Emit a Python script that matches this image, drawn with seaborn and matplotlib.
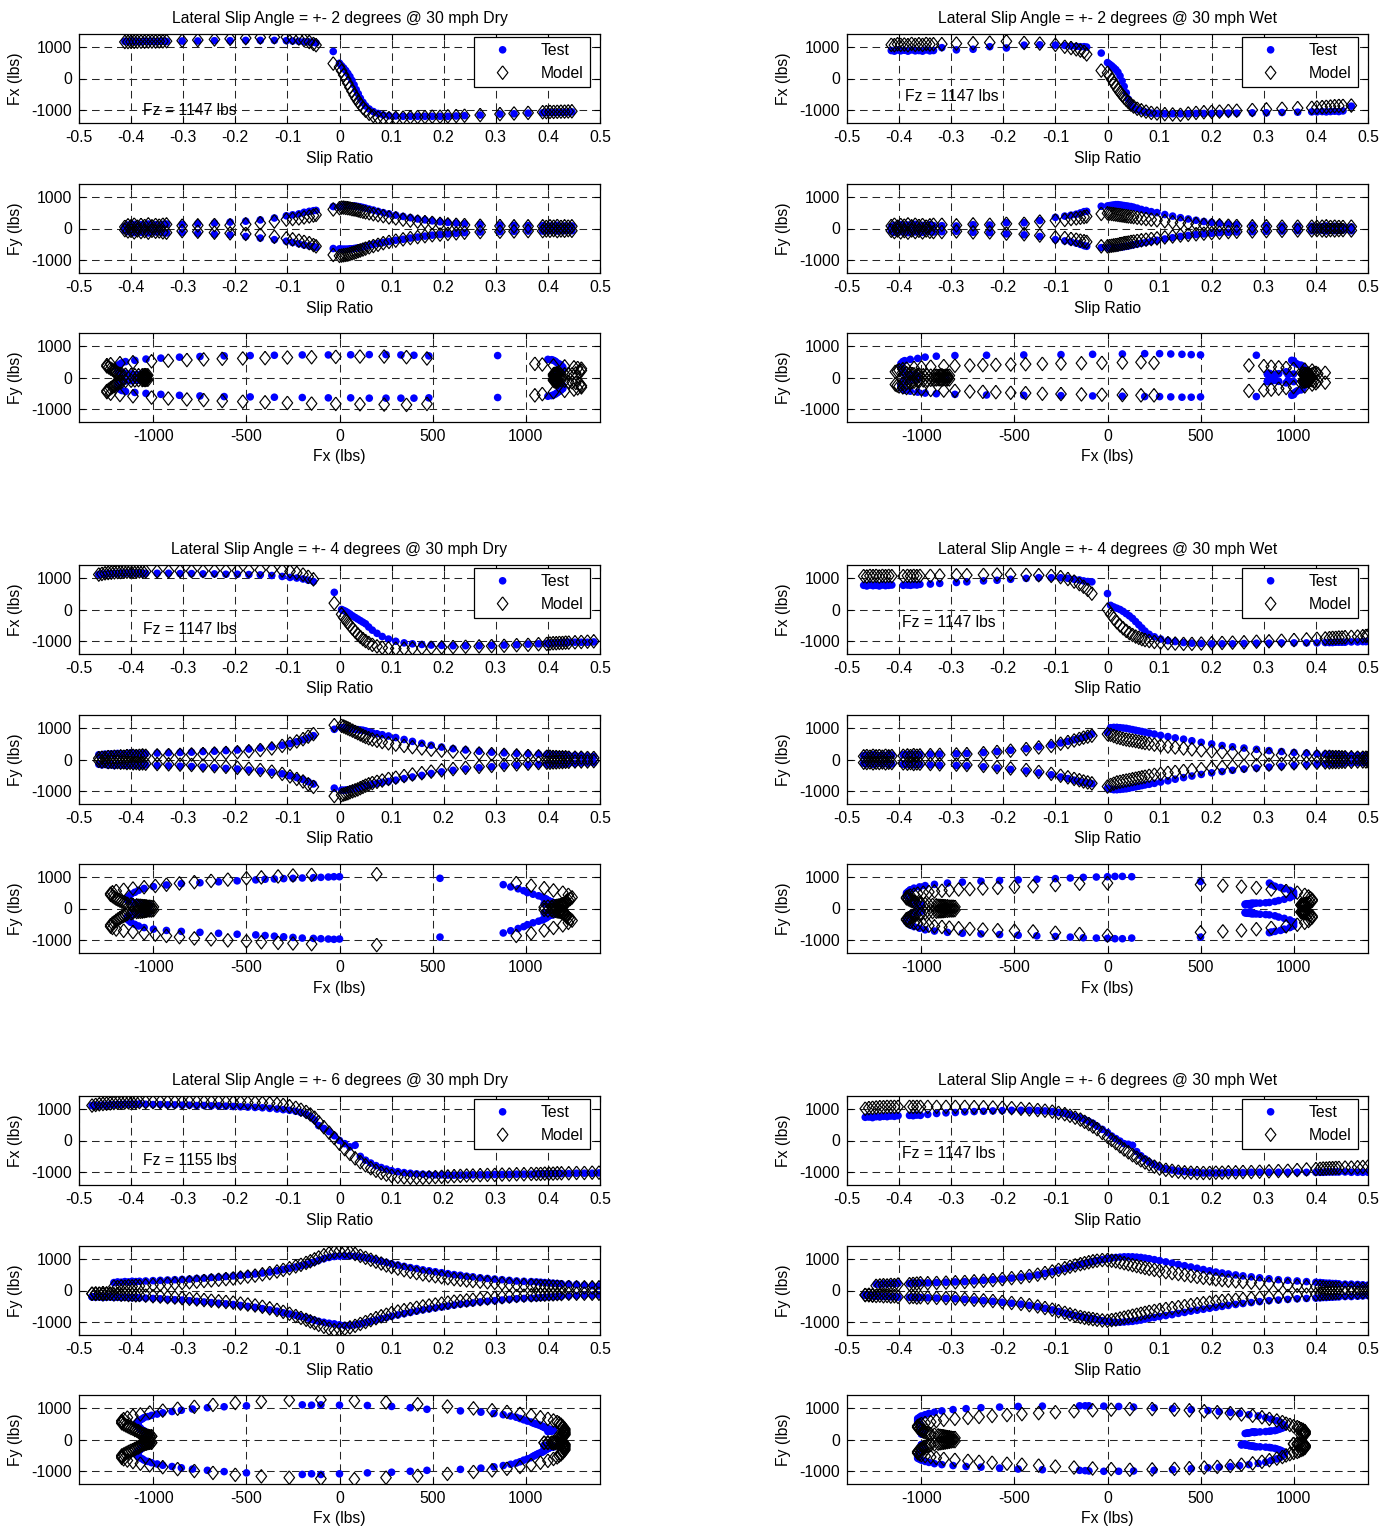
import numpy as np
import matplotlib
matplotlib.use("Agg")
import matplotlib.pyplot as plt
import seaborn as sns
from matplotlib.ticker import FixedLocator, FixedFormatter

# ---------------------------------------------------------------- data
# Each case: slip ratio points, Fx (test/model), Fy for +alpha and -alpha (test/model)

# 2 degrees, dry
dry2_slip = [-0.412, -0.406, -0.400, -0.394, -0.388, -0.381, -0.374, -0.367, -0.360, -0.353, -0.346, -0.339, -0.332,
             -0.302, -0.272, -0.240, -0.210, -0.180, -0.152, -0.125, -0.102, -0.090, -0.078, -0.068, -0.058, -0.050, -0.045,
             -0.012,
             0.000, 0.004, 0.008, 0.012, 0.016, 0.020, 0.024, 0.028, 0.032, 0.036, 0.040, 0.045, 0.050, 0.057,
             0.065, 0.074, 0.084, 0.095, 0.108, 0.122, 0.136, 0.150, 0.164, 0.178, 0.193, 0.208, 0.224, 0.240, 0.270, 0.308, 0.335, 0.362,
             0.390, 0.397, 0.404, 0.411, 0.418, 0.425, 0.432, 0.439, 0.446]
dry2_fx_test = [1170, 1160, 1175, 1165, 1170, 1160, 1175, 1165, 1170, 1160, 1170, 1175, 1165,
                1180, 1180, 1190, 1190, 1200, 1200, 1200, 1190, 1180, 1170, 1160, 1150, 1140, 1120,
                850,
                480, 400, 330, 250, 160, 60, -60, -200, -350, -480, -620, -750, -860, -960,
                -1040, -1100, -1150, -1170, -1180, -1190, -1190, -1190, -1190, -1190, -1190, -1190, -1180, -1170, -1150, -1120, -1110, -1090,
                -1080, -1075, -1070, -1070, -1065, -1060, -1060, -1055, -1050]
dry2_fx_model = [1150, 1150, 1155, 1155, 1160, 1160, 1160, 1165, 1165, 1165, 1170, 1170, 1175,
                 1190, 1210, 1230, 1250, 1270, 1290, 1300, 1300, 1280, 1260, 1210, 1150, 1090, 1050,
                 470,
                 360, 240, 110, -20, -150, -280, -400, -520, -630, -730, -820, -920, -1010, -1110,
                 -1180, -1230, -1250, -1250, -1240, -1230, -1220, -1210, -1210, -1200, -1200, -1190, -1180, -1170, -1150, -1120, -1100, -1080,
                 -1060, -1055, -1050, -1050, -1045, -1040, -1040, -1035, -1030]
dry2_fy_test_pos = [60, 110, 80, 130, 70, 120, 90, 140, 80, 120, 100, 130, 140,
                    130, 150, 170, 200, 230, 270, 330, 400, 430, 460, 510, 540, 560, 570,
                    690,
                    680, 700, 710, 720, 720, 715, 710, 710, 700, 690, 680, 660, 640, 610,
                    580, 540, 500, 460, 420, 380, 340, 300, 270, 240, 210, 190, 170, 150, 130, 110, 100, 90,
                    90, 60, 80, 70, 100, 60, 80, 70, 80]
dry2_fy_test_neg = [-60, -100, -80, -130, -70, -120, -90, -140, -80, -110, -100, -130, -140,
                    -120, -150, -180, -200, -250, -300, -350, -400, -440, -480, -520, -550, -570, -590,
                    -630,
                    -640, -650, -650, -650, -650, -640, -640, -630, -620, -610, -600, -580, -560, -530,
                    -500, -470, -440, -410, -370, -340, -300, -270, -240, -210, -190, -170, -150, -130, -110, -100, -90, -80,
                    -80, -60, -70, -50, -80, -60, -70, -50, -70]
dry2_fy_model_pos = [50, 100, 70, 120, 60, 110, 80, 130, 70, 110, 90, 120, 130,
                     90, 100, 110, 100, 130, 170, 220, 280, 300, 320, 350, 380, 410, 430,
                     600,
                     640, 660, 660, 650, 640, 630, 610, 600, 590, 570, 550, 530, 510, 480,
                     450, 420, 390, 350, 320, 280, 250, 220, 200, 180, 150, 130, 120, 110, 90, 80, 70, 70,
                     70, 50, 70, 60, 80, 50, 70, 60, 70]
dry2_fy_model_neg = [-50, -90, -70, -120, -60, -110, -80, -130, -70, -100, -90, -120, -130,
                     -80, -100, -130, -150, -170, -200, -260, -310, -340, -380, -420, -460, -520, -560,
                     -830,
                     -860, -850, -840, -830, -820, -800, -780, -760, -740, -710, -690, -660, -630, -590,
                     -550, -510, -460, -420, -380, -340, -300, -270, -240, -210, -190, -170, -150, -130, -110, -100, -90, -80,
                     -80, -60, -70, -50, -80, -60, -70, -50, -70]

# 2 degrees, wet
wet2_slip = [-0.415, -0.409, -0.403, -0.397, -0.390, -0.383, -0.376, -0.369, -0.362, -0.355, -0.348, -0.341, -0.334,
             -0.318, -0.290, -0.258, -0.226, -0.194, -0.160, -0.130, -0.100, -0.082, -0.070, -0.060, -0.052, -0.045, -0.040,
             -0.012,
             0.000, 0.004, 0.008, 0.012, 0.016, 0.020, 0.024, 0.028, 0.032, 0.036, 0.040, 0.045, 0.050, 0.057,
             0.065, 0.074, 0.084, 0.095, 0.110, 0.125, 0.140, 0.155, 0.170, 0.185, 0.200, 0.215, 0.232, 0.248, 0.278, 0.305, 0.335, 0.365,
             0.392, 0.402, 0.412, 0.420, 0.428, 0.436, 0.444, 0.452, 0.468]
wet2_fx_test = [880, 860, 900, 870, 890, 860, 900, 870, 880, 860, 900, 870, 880,
                970, 900, 920, 1000, 960, 1050, 1060, 1050, 1040, 1020, 1010, 1000, 1000, 990,
                800,
                500, 450, 400, 340, 280, 200, 80, -80, -250, -450, -650, -820, -920, -980,
                -1020, -1060, -1090, -1100, -1110, -1110, -1110, -1110, -1100, -1100, -1100, -1100, -1090, -1090, -1080, -1080, -1070, -1060,
                -1050, -1050, -1040, -1050, -1040, -1030, -1040, -1020, -870]
wet2_fx_model = [1060, 1050, 1080, 1060, 1070, 1050, 1090, 1060, 1080, 1060, 1090, 1070, 1080,
                 1080, 1100, 1110, 1130, 1170, 1120, 1100, 1060, 1000, 960, 920, 880, 840, 760,
                 250,
                 180, 80, -30, -140, -250, -350, -440, -520, -600, -670, -740, -820, -880, -950,
                 -1000, -1040, -1080, -1100, -1120, -1130, -1140, -1100, -1080, -1060, -1050, -1040, -1020, -1010, -990, -970, -950, -930,
                 -920, -910, -900, -890, -880, -870, -860, -860, -850]
wet2_fy_test_pos = [60, 100, 80, 120, 70, 110, 90, 130, 60, 100, 80, 120, 90,
                    90, 80, 120, 110, 180, 180, 250, 350, 390, 420, 450, 490, 530, 540,
                    700,
                    710, 720, 730, 740, 750, 750, 740, 730, 720, 710, 700, 690, 670, 640,
                    600, 570, 530, 500, 440, 390, 340, 300, 260, 220, 190, 160, 140, 120, 100, 90, 80, 70,
                    70, 50, 60, 80, 50, 70, 60, 50, 50]
wet2_fy_test_neg = [-80, -120, -60, -100, -90, -130, -70, -110, -80, -120, -60, -100, -110,
                    -100, -90, -120, -130, -170, -200, -250, -350, -390, -420, -460, -500, -540, -560,
                    -600,
                    -610, -620, -620, -610, -600, -600, -590, -580, -570, -560, -550, -530, -510, -490,
                    -460, -430, -400, -370, -330, -290, -250, -220, -190, -170, -150, -130, -120, -110, -100, -90, -80, -70,
                    -70, -50, -60, -80, -50, -70, -60, -50, -70]
wet2_fy_model_pos = [80, 120, 60, 110, 90, 130, 70, 120, 80, 110, 60, 100, 120,
                     120, 100, 130, 120, 150, 150, 220, 250, 270, 300, 320, 340, 360, 380,
                     460,
                     480, 470, 460, 450, 440, 430, 420, 410, 400, 390, 380, 370, 360, 340,
                     320, 300, 280, 260, 230, 200, 180, 160, 140, 120, 110, 100, 90, 80, 70, 70, 60, 60,
                     60, 50, 60, 70, 50, 60, 50, 50, 60]
wet2_fy_model_neg = [-70, -110, -60, -120, -80, -130, -60, -110, -70, -120, -60, -100, -110,
                     -110, -90, -120, -120, -160, -180, -220, -280, -300, -330, -350, -380, -400, -420,
                     -560,
                     -560, -550, -540, -530, -520, -510, -490, -480, -460, -450, -440, -420, -410, -390,
                     -370, -350, -330, -310, -280, -250, -220, -200, -180, -160, -140, -130, -110, -100, -90, -80, -70, -60,
                     -60, -50, -60, -70, -50, -60, -50, -50, -60]

# 4 degrees, dry
dry4_slip = [-0.462, -0.456, -0.450, -0.444, -0.438, -0.432, -0.426, -0.420, -0.414, -0.408, -0.402, -0.396, -0.390, -0.384, -0.378, -0.372,
             -0.350, -0.328, -0.306, -0.284, -0.262, -0.240, -0.218, -0.196, -0.174, -0.152, -0.130, -0.110, -0.095, -0.082, -0.070, -0.060, -0.050,
             -0.010,
             0.004, 0.008, 0.012, 0.016, 0.020, 0.025, 0.030, 0.035, 0.040, 0.045, 0.050, 0.056, 0.063,
             0.072, 0.082, 0.094, 0.108, 0.124, 0.140, 0.158, 0.176, 0.196, 0.218, 0.242, 0.268, 0.292, 0.316, 0.340, 0.362, 0.382, 0.398,
             0.404, 0.410, 0.416, 0.422, 0.428, 0.434, 0.440, 0.452, 0.464, 0.476, 0.488]
dry4_fx_test = [1100, 1120, 1110, 1130, 1120, 1140, 1130, 1150, 1140, 1150, 1130, 1150, 1140, 1150, 1130, 1140,
                1140, 1140, 1130, 1130, 1120, 1120, 1110, 1110, 1100, 1090, 1070, 1040, 1010, 990, 960, 920, 880,
                540,
                0, -30, -60, -100, -140, -200, -250, -300, -350, -400, -450, -550, -650,
                -750, -850, -930, -1000, -1050, -1080, -1100, -1120, -1130, -1140, -1140, -1140, -1130, -1120, -1110, -1090, -1080, -1070,
                -1060, -1060, -1050, -1050, -1040, -1040, -1030, -1030, -1030, -1030, -1020]
dry4_fx_model = [1100, 1120, 1140, 1150, 1160, 1170, 1180, 1180, 1190, 1190, 1200, 1200, 1200, 1200, 1200, 1200,
                 1200, 1200, 1210, 1210, 1210, 1220, 1220, 1220, 1230, 1240, 1250, 1230, 1200, 1150, 1100, 1030, 950,
                 200,
                 -150, -250, -330, -420, -500, -600, -690, -780, -860, -930, -990, -1050, -1110,
                 -1160, -1200, -1220, -1230, -1230, -1220, -1210, -1200, -1190, -1180, -1170, -1160, -1150, -1140, -1120, -1110, -1090, -1080,
                 -1070, -1060, -1060, -1050, -1050, -1040, -1040, -1030, -1020, -1010, -1000]
dry4_fy_test_pos = [150, 120, 170, 140, 180, 150, 190, 160, 180, 170, 200, 180, 190, 170, 200, 180,
                    200, 210, 220, 230, 250, 260, 280, 300, 330, 360, 400, 450, 500, 560, 620, 680, 750,
                    950,
                    1000, 1000, 990, 980, 970, 960, 950, 940, 930, 920, 900, 870, 840,
                    810, 780, 740, 690, 630, 570, 510, 450, 390, 340, 300, 260, 230, 210, 190, 180, 170, 160,
                    160, 150, 150, 140, 150, 140, 130, 130, 120, 110, 100]
dry4_fy_test_neg = [-150, -170, -140, -180, -160, -190, -150, -180, -170, -190, -160, -180, -170, -190, -180, -170,
                    -190, -200, -210, -220, -240, -260, -280, -300, -330, -360, -400, -450, -510, -570, -630, -700, -770,
                    -900,
                    -960, -970, -960, -950, -940, -930, -910, -890, -870, -850, -830, -810, -780,
                    -750, -720, -690, -650, -600, -550, -500, -440, -390, -340, -300, -260, -230, -200, -180, -170, -160, -150,
                    -150, -140, -140, -130, -140, -130, -120, -120, -110, -110, -100]
dry4_fy_model_pos = [40, 60, 50, 80, 70, 90, 80, 100, 90, 110, 100, 120, 110, 120, 130, 120,
                     130, 140, 150, 160, 170, 190, 210, 230, 260, 300, 350, 430, 500, 570, 640, 720, 800,
                     1080,
                     1060, 1040, 1010, 980, 950, 910, 870, 830, 790, 750, 710, 670, 630,
                     590, 550, 510, 470, 430, 390, 350, 310, 280, 250, 220, 190, 170, 150, 130, 110, 100, 90,
                     90, 80, 80, 70, 70, 70, 60, 60, 60, 50, 50]
dry4_fy_model_neg = [-40, -60, -50, -80, -70, -90, -80, -100, -90, -110, -100, -120, -110, -130, -120, -130,
                     -140, -150, -160, -170, -190, -210, -230, -260, -290, -330, -380, -450, -530, -610, -690, -780, -860,
                     -1150,
                     -1120, -1100, -1080, -1060, -1030, -1000, -970, -940, -900, -860, -820, -780, -740,
                     -700, -660, -610, -570, -520, -470, -430, -380, -340, -300, -260, -230, -200, -170, -150, -130, -110, -100,
                     -100, -90, -90, -80, -80, -70, -70, -60, -60, -60, -50]

# 4 degrees, wet
wet4_slip = [-0.468, -0.462, -0.456, -0.450, -0.444, -0.438, -0.432, -0.426, -0.420, -0.414, -0.392, -0.384, -0.378, -0.372, -0.366, -0.360,
             -0.340, -0.322, -0.290, -0.270, -0.238, -0.212, -0.186, -0.156, -0.132, -0.108, -0.090, -0.076, -0.064, -0.054, -0.046, -0.038, -0.030,
             0.000,
             0.006, 0.012, 0.018, 0.024, 0.030, 0.036, 0.042, 0.048, 0.054, 0.060, 0.066, 0.072, 0.080,
             0.090, 0.102, 0.116, 0.130, 0.146, 0.162, 0.180, 0.200, 0.220, 0.240, 0.262, 0.286, 0.310, 0.334, 0.358, 0.382, 0.402, 0.418,
             0.426, 0.432, 0.438, 0.444, 0.450, 0.456, 0.468, 0.480, 0.490, 0.496, 0.500]
wet4_fx_test = [760, 740, 770, 750, 760, 740, 770, 750, 760, 770, 760, 770, 760, 780, 770, 790,
                800, 820, 850, 870, 900, 920, 950, 980, 1000, 1000, 1000, 980, 950, 930, 900, 880, 870,
                500,
                130, 80, 40, 0, -60, -130, -200, -280, -380, -480, -580, -680, -780,
                -860, -930, -980, -1010, -1040, -1060, -1070, -1080, -1080, -1080, -1070, -1060, -1060, -1050, -1050, -1050, -1050, -1040,
                -1040, -1040, -1030, -1030, -1030, -1030, -1020, -1020, -1010, -1010, -1000]
wet4_fx_model = [1050, 1040, 1060, 1050, 1060, 1040, 1060, 1050, 1060, 1050, 1050, 1060, 1050, 1060, 1050, 1060,
                 1060, 1070, 1080, 1080, 1090, 1100, 1100, 1090, 1080, 1060, 1020, 960, 880, 800, 720, 620, 500,
                 0,
                 -150, -280, -400, -500, -590, -670, -740, -800, -850, -890, -930, -960, -990,
                 -1020, -1040, -1060, -1070, -1080, -1080, -1070, -1060, -1050, -1040, -1030, -1010, -1000, -980, -960, -940, -920, -910,
                 -900, -890, -890, -880, -880, -870, -860, -850, -840, -830, -820]
wet4_fy_test_pos = [120, 140, 110, 150, 130, 120, 140, 130, 150, 140, 150, 160, 140, 170, 150, 160,
                    170, 170, 180, 190, 220, 250, 290, 340, 400, 460, 520, 570, 620, 660, 700, 750, 800,
                    850,
                    1000, 1010, 1010, 1000, 990, 980, 960, 940, 920, 900, 880, 860, 830,
                    800, 760, 720, 680, 640, 590, 540, 490, 440, 400, 360, 320, 280, 250, 220, 200, 180, 170,
                    160, 160, 150, 150, 140, 140, 130, 130, 120, 120, 110]
wet4_fy_test_neg = [-120, -140, -110, -150, -130, -120, -140, -130, -150, -140, -150, -160, -140, -170, -150, -160,
                    -170, -180, -190, -200, -230, -270, -310, -360, -420, -480, -550, -600, -650, -690, -720, -740, -760,
                    -900,
                    -930, -950, -950, -940, -930, -920, -900, -880, -860, -840, -820, -800, -780,
                    -750, -710, -670, -620, -570, -520, -470, -420, -380, -340, -300, -270, -240, -210, -190, -170, -150, -140,
                    -140, -130, -130, -120, -120, -110, -110, -100, -100, -90, -90]
wet4_fy_model_pos = [100, 110, 90, 120, 100, 110, 90, 120, 100, 110, 120, 130, 110, 140, 120, 130,
                     140, 150, 160, 170, 200, 240, 280, 330, 380, 430, 500, 550, 600, 650, 690, 720, 750,
                     800,
                     780, 740, 700, 680, 650, 630, 610, 600, 580, 560, 540, 520, 500,
                     470, 440, 410, 380, 350, 320, 290, 260, 230, 210, 190, 170, 150, 140, 120, 110, 100, 90,
                     90, 80, 80, 80, 70, 70, 70, 60, 60, 60, 50]
wet4_fy_model_neg = [-100, -110, -90, -120, -100, -110, -90, -120, -100, -110, -120, -130, -110, -140, -120, -130,
                     -140, -150, -160, -170, -200, -240, -280, -330, -390, -450, -510, -560, -610, -650, -690, -720, -750,
                     -850,
                     -800, -760, -720, -700, -680, -660, -640, -620, -600, -580, -560, -540, -510,
                     -480, -450, -420, -390, -360, -330, -300, -270, -240, -220, -200, -180, -160, -140, -120, -110, -100, -90,
                     -90, -80, -80, -80, -70, -70, -70, -60, -60, -60, -50]

# 6 degrees, dry
dry6_slip = [-0.475, -0.468, -0.461, -0.454, -0.447, -0.440, -0.433, -0.426, -0.419, -0.412, -0.405, -0.398, -0.391, -0.384,
             -0.372, -0.358, -0.344, -0.330, -0.316, -0.302, -0.288, -0.274, -0.260, -0.246, -0.232, -0.218, -0.204, -0.190, -0.176,
             -0.162, -0.148, -0.134, -0.120, -0.108, -0.096, -0.084,
             -0.074, -0.064, -0.056, -0.048, -0.040, -0.030, -0.020, -0.010,
             0.000, 0.010, 0.020, 0.030, 0.040, 0.050, 0.060, 0.070, 0.080, 0.090,
             0.100, 0.112, 0.124, 0.136, 0.148, 0.160, 0.172, 0.184, 0.196, 0.208, 0.220, 0.232, 0.244, 0.256, 0.270,
             0.284, 0.298, 0.312, 0.326, 0.340, 0.354, 0.368,
             0.378, 0.386, 0.394, 0.402, 0.410, 0.418, 0.426, 0.440, 0.455, 0.470, 0.485, 0.498]
dry6_fx_test = [1100, 1110, 1100, 1120, 1110, 1130, 1120, 1140, 1130, 1150, 1140, 1150, 1140, 1150,
                1140, 1130, 1130, 1120, 1120, 1110, 1110, 1100, 1100, 1090, 1090, 1080, 1070, 1060, 1050,
                1040, 1030, 1010, 990, 970, 950, 920,
                880, 830, 760, 650, 470, 380, 280, 150,
                0, -100, -200, -150, -500, -620, -710, -790, -850, -900,
                -950, -980, -1010, -1030, -1050, -1060, -1070, -1080, -1080, -1090, -1090, -1090, -1090, -1080, -1080,
                -1080, -1070, -1070, -1070, -1060, -1060, -1060,
                -1050, -1050, -1050, -1050, -1040, -1040, -1040, -1040, -1030, -1030, -1030, -1020]
dry6_fx_model = [1100, 1120, 1140, 1150, 1160, 1170, 1180, 1190, 1190, 1200, 1200, 1200, 1210, 1210,
                 1210, 1210, 1210, 1210, 1210, 1210, 1210, 1210, 1210, 1210, 1210, 1200, 1200, 1200, 1190,
                 1190, 1180, 1170, 1150, 1120, 1080, 1030,
                 970, 900, 820, 720, 580, 420, 250, 80,
                 -100, -270, -420, -560, -680, -780, -870, -950, -1020, -1070,
                 -1110, -1140, -1160, -1170, -1170, -1170, -1160, -1150, -1140, -1130, -1120, -1110, -1100, -1100, -1090,
                 -1080, -1080, -1070, -1070, -1060, -1060, -1050,
                 -1050, -1050, -1040, -1040, -1040, -1030, -1030, -1030, -1020, -1020, -1010, -1010]
dry6_fy_test_pos = [-200, -190, -180, -200, -190, -180, 250, 270, 260, 280, 270, 290, 280, 290,
                    300, 310, 320, 330, 340, 350, 360, 380, 390, 410, 420, 440, 460, 480, 500,
                    520, 550, 580, 620, 660, 700, 740,
                    780, 820, 860, 900, 950, 1000, 1040, 1070,
                    1080, 1090, 1090, 1080, 1060, 1030, 1000, 960, 920, 880,
                    840, 800, 760, 720, 690, 650, 620, 590, 560, 530, 500, 480, 450, 430, 400,
                    380, 360, 340, 320, 300, 290, 280,
                    270, 260, 250, 240, 230, 220, 210, 200, 190, 170, 150, 140]
dry6_fy_test_neg = [-200, -210, -200, -220, -210, -200, -220, -210, -220, -210, -220, -230, -220, -230,
                    -240, -250, -260, -280, -290, -300, -320, -340, -360, -380, -400, -420, -440, -470, -500,
                    -530, -570, -610, -650, -700, -740, -780,
                    -820, -860, -900, -940, -970, -1000, -1030, -1050,
                    -1080, -1100, -1100, -1080, -1050, -1010, -970, -930, -890, -850,
                    -810, -770, -730, -690, -650, -610, -580, -550, -520, -490, -460, -430, -410, -390, -360,
                    -340, -320, -300, -280, -260, -250, -240,
                    -230, -220, -210, -200, -200, -190, -180, -170, -160, -150, -150, -140]
dry6_fy_model_pos = [-100, -90, -100, -80, -90, -100, 120, 110, 130, 120, 140, 130, 150, 140,
                     160, 180, 190, 210, 220, 240, 260, 280, 300, 320, 340, 360, 380, 410, 440,
                     470, 510, 550, 600, 650, 700, 760,
                     810, 870, 920, 980, 1040, 1110, 1170, 1220,
                     1250, 1240, 1200, 1150, 1090, 1030, 970, 910, 850, 790,
                     740, 690, 640, 590, 550, 510, 480, 450, 420, 390, 360, 340, 320, 300, 280,
                     260, 240, 220, 200, 180, 170, 160,
                     150, 140, 130, 130, 120, 120, 110, 110, 100, 100, 100, 100]
dry6_fy_model_neg = [-100, -110, -100, -120, -110, -100, -120, -110, -130, -120, -140, -130, -150, -140,
                     -160, -180, -190, -210, -220, -240, -260, -280, -300, -320, -340, -360, -380, -410, -440,
                     -470, -510, -560, -610, -670, -730, -800,
                     -860, -920, -970, -1020, -1080, -1140, -1200, -1250,
                     -1230, -1200, -1160, -1110, -1050, -990, -930, -870, -810, -760,
                     -710, -660, -620, -580, -540, -500, -470, -440, -410, -380, -350, -330, -310, -290, -270,
                     -250, -230, -210, -190, -170, -160, -150,
                     -140, -130, -130, -120, -120, -110, -110, -100, -100, -100, -100, -100]

# 6 degrees, wet
wet6_slip = [-0.465, -0.458, -0.451, -0.444, -0.437, -0.430, -0.423, -0.416, -0.409, -0.402, -0.380, -0.373, -0.366, -0.359,
             -0.345, -0.328, -0.310, -0.292, -0.274, -0.256, -0.238, -0.220, -0.202, -0.184,
             -0.166, -0.150, -0.134, -0.120, -0.106, -0.094, -0.082, -0.072, -0.062, -0.052,
             -0.044, -0.036, -0.028, -0.020, -0.010,
             0.000, 0.008, 0.016, 0.024, 0.032, 0.040, 0.048, 0.056, 0.064, 0.072, 0.080, 0.090,
             0.100, 0.112, 0.124, 0.136, 0.148, 0.160, 0.172, 0.184, 0.196, 0.208, 0.220, 0.232, 0.246, 0.260, 0.276,
             0.292, 0.310, 0.328, 0.346, 0.364, 0.382, 0.400,
             0.408, 0.414, 0.420, 0.426, 0.432, 0.438, 0.444, 0.456, 0.468, 0.480, 0.490, 0.500]
wet6_fx_test = [730, 740, 720, 750, 740, 760, 750, 770, 760, 780, 790, 780, 800, 790,
                820, 850, 870, 880, 900, 910, 920, 930, 940, 950,
                950, 950, 940, 930, 910, 880, 850, 810, 760, 710,
                660, 600, 540, 450, 350,
                250, 140, 60, -20, -100, -120, -150, -350, -480, -580, -680, -760,
                -830, -890, -930, -960, -980, -1000, -1010, -1020, -1020, -1020, -1020, -1010, -1010, -1010, -1000,
                -1000, -1000, -1000, -1000, -1000, -1000, -1000,
                -1000, -1000, -990, -990, -990, -990, -990, -990, -1000, -1000, -1000, -1000]
wet6_fx_model = [1000, 1020, 1030, 1040, 1050, 1050, 1060, 1060, 1060, 1060, 1060, 1060, 1060, 1060,
                 1060, 1060, 1060, 1060, 1060, 1050, 1050, 1040, 1030, 1020,
                 1000, 980, 960, 940, 910, 870, 830, 780, 720, 660,
                 590, 520, 440, 360, 240,
                 120, 20, -80, -180, -280, -370, -460, -540, -620, -690, -750, -820,
                 -880, -920, -950, -980, -1000, -1010, -1020, -1020, -1020, -1010, -1010, -1000, -1000, -990, -990,
                 -980, -970, -960, -950, -930, -910, -900,
                 -890, -880, -880, -870, -870, -860, -860, -850, -850, -840, -830, -820]
wet6_fy_test_pos = [-150, -140, -160, 200, 190, 210, 200, 220, 210, 230, 220, 240, 230, 240,
                    240, 250, 260, 270, 280, 300, 320, 340, 360, 390,
                    420, 450, 490, 540, 590, 640, 690, 740, 780, 820,
                    850, 880, 910, 940, 970,
                    1000, 1020, 1040, 1050, 1060, 1060, 1060, 1050, 1040, 1020, 1000, 970,
                    940, 900, 860, 820, 780, 740, 700, 660, 620, 580, 550, 520, 490, 460, 430,
                    400, 370, 340, 320, 300, 280, 260,
                    250, 240, 230, 230, 220, 220, 210, 200, 200, 190, 180, 170]
wet6_fy_test_neg = [-150, -160, -170, -180, -170, -190, -180, -200, -190, -210, -220, -210, -230, -220,
                    -230, -240, -250, -260, -280, -300, -320, -340, -370, -400,
                    -430, -470, -510, -560, -610, -660, -710, -750, -790, -820,
                    -850, -870, -890, -920, -950,
                    -970, -990, -1000, -1000, -990, -980, -970, -950, -930, -900, -870, -850,
                    -820, -790, -760, -720, -690, -650, -620, -590, -560, -530, -500, -470, -440, -410, -380,
                    -350, -320, -300, -280, -260, -250, -240,
                    -230, -220, -220, -210, -210, -200, -200, -190, -190, -180, -170, -160]
wet6_fy_model_pos = [-140, -130, -150, 150, 160, 170, 160, 180, 170, 190, 200, 210, 220, 230,
                     230, 240, 250, 260, 270, 290, 310, 330, 360, 390,
                     420, 460, 500, 550, 600, 650, 700, 750, 790, 830,
                     860, 890, 920, 940, 960,
                     960, 940, 920, 890, 860, 830, 800, 770, 740, 710, 680, 650,
                     620, 580, 550, 520, 490, 460, 430, 400, 380, 350, 330, 310, 290, 270, 250,
                     230, 210, 190, 170, 150, 130, 120,
                     110, 100, 90, 90, 80, 80, 70, 70, 60, 60, 50, 50]
wet6_fy_model_neg = [-140, -150, -160, -170, -160, -180, -170, -190, -180, -200, -210, -200, -220, -210,
                     -220, -230, -240, -250, -270, -290, -310, -330, -360, -390,
                     -420, -460, -500, -550, -600, -650, -700, -750, -790, -830,
                     -860, -880, -900, -920, -940,
                     -950, -930, -910, -880, -850, -820, -790, -760, -730, -700, -670, -640,
                     -610, -580, -550, -520, -490, -460, -430, -400, -380, -350, -330, -310, -290, -270, -250,
                     -230, -210, -190, -170, -150, -130, -120,
                     -110, -100, -90, -90, -80, -80, -70, -70, -60, -60, -50, -50]

titles = ["Lateral Slip Angle = +- 2 degrees @ 30 mph Dry",
          "Lateral Slip Angle = +- 2 degrees @ 30 mph Wet",
          "Lateral Slip Angle = +- 4 degrees @ 30 mph Dry",
          "Lateral Slip Angle = +- 4 degrees @ 30 mph Wet",
          "Lateral Slip Angle = +- 6 degrees @ 30 mph Dry",
          "Lateral Slip Angle = +- 6 degrees @ 30 mph Wet"]
fz_labels = ["Fz = 1147 lbs", "Fz = 1147 lbs", "Fz = 1147 lbs",
             "Fz = 1147 lbs", "Fz = 1155 lbs", "Fz = 1147 lbs"]
slip_ticks = [-0.5, -0.4, -0.3, -0.2, -0.1, 0, 0.1, 0.2, 0.3, 0.4, 0.5]
slip_tick_labels = ["-0.5", "-0.4", "-0.3", "-0.2", "-0.1", "0", "0.1", "0.2", "0.3", "0.4", "0.5"]
force_ticks = [-1000, 0, 1000]
force_tick_labels = ["-1000", "0", "1000"]
fx_ticks = [-1000, -500, 0, 500, 1000]
fx_tick_labels = ["-1000", "-500", "0", "500", "1000"]

cases = [
    (dry2_slip, dry2_fx_test, dry2_fx_model, dry2_fy_test_pos, dry2_fy_test_neg, dry2_fy_model_pos, dry2_fy_model_neg),
    (wet2_slip, wet2_fx_test, wet2_fx_model, wet2_fy_test_pos, wet2_fy_test_neg, wet2_fy_model_pos, wet2_fy_model_neg),
    (dry4_slip, dry4_fx_test, dry4_fx_model, dry4_fy_test_pos, dry4_fy_test_neg, dry4_fy_model_pos, dry4_fy_model_neg),
    (wet4_slip, wet4_fx_test, wet4_fx_model, wet4_fy_test_pos, wet4_fy_test_neg, wet4_fy_model_pos, wet4_fy_model_neg),
    (dry6_slip, dry6_fx_test, dry6_fx_model, dry6_fy_test_pos, dry6_fy_test_neg, dry6_fy_model_pos, dry6_fy_model_neg),
    (wet6_slip, wet6_fx_test, wet6_fx_model, wet6_fy_test_pos, wet6_fy_test_neg, wet6_fy_model_pos, wet6_fy_model_neg),
]
for i, c in enumerate(cases):
    lens = [len(a) for a in c]
    assert len(set(lens)) == 1, (i, lens)

# ---------------------------------------------------------------- style
sns.set_style("white")
plt.rcParams["font.family"] = ["Liberation Sans", "DejaVu Sans"]
plt.rcParams["lines.scale_dashes"] = False
plt.rcParams["text.color"] = "black"
plt.rcParams["axes.labelcolor"] = "black"
FS = 11.3

W, H = 1392, 1530
fig = plt.figure(figsize=(W / 100, H / 100), dpi=100)
fig.patch.set_facecolor("white")

col_x = [79, 847]
grp_top = [34, 565, 1096]
pan_off = [0, 150, 299]
AW, AH = 521, 89

DIAMOND = [(0, 1), (0.78, 0), (0, -1), (-0.78, 0), (0, 1)]
TEST_S = 30
MODEL_S = 95

fz_pos = [(-0.377, -1000), (-0.389, -570), (-0.377, -640),
          (-0.395, -400), (-0.377, -640), (-0.395, -400)]


def make_ax(x0, top):
    return fig.add_axes([x0 / W, 1 - (top + AH) / H, AW / W, AH / H])


def style_ax(ax, xticks, xlabels, xlim, xlabel, ylabel):
    ax.set_xlim(xlim)
    ax.set_ylim(-1400, 1400)
    ax.xaxis.set_major_locator(FixedLocator(xticks))
    ax.xaxis.set_major_formatter(FixedFormatter(xlabels))
    ax.yaxis.set_major_locator(FixedLocator(force_ticks))
    ax.yaxis.set_major_formatter(FixedFormatter(force_tick_labels))
    ax.grid(True, color="0.15", linestyle=(0, (5.5, 3.5)), linewidth=0.75)
    ax.set_axisbelow(True)
    ax.tick_params(direction="in", length=4, width=0.8, top=True, right=True,
                   bottom=True, left=True, labelsize=FS, pad=5, colors="black")
    for s in ax.spines.values():
        s.set_color("black")
        s.set_linewidth(0.9)
        s.set_visible(True)
    ax.set_xlabel(xlabel, fontsize=FS, labelpad=4, color="black")
    ax.set_ylabel(ylabel, fontsize=FS, labelpad=6, color="black")
    ax.set_facecolor("white")


def draw(ax, xt, yt, xm, ym, with_label=False):
    sns.scatterplot(x=xt, y=yt, ax=ax, color=(0, 0, 1), marker="o", s=TEST_S,
                    linewidth=0, edgecolor="none", legend=False,
                    label="Test" if with_label else None, zorder=2)
    sns.scatterplot(x=xm, y=ym, ax=ax, color="black", marker=DIAMOND, s=MODEL_S,
                    facecolor="none", edgecolor="black", linewidth=0.85, legend=False,
                    label="Model" if with_label else None, zorder=3)


for g, c in enumerate(cases):
    slip, fxt, fxm, fytp, fytn, fymp, fymn = [np.asarray(a, dtype=float) for a in c]
    col = g % 2
    row = g // 2
    x0 = col_x[col]
    t0 = grp_top[row]

    # Fx vs slip
    ax1 = make_ax(x0, t0 + pan_off[0])
    draw(ax1, slip, fxt, slip, fxm, with_label=True)
    style_ax(ax1, slip_ticks, slip_tick_labels, (-0.5, 0.5), "Slip Ratio", "Fx (lbs)")
    ax1.set_title(titles[g], fontsize=FS, pad=8, color="black")
    leg = ax1.legend(loc="upper right", bbox_to_anchor=(0.981, 0.966), borderaxespad=0,
                     frameon=True, fancybox=False, edgecolor="black", framealpha=1,
                     fontsize=FS, handlelength=2.9, handletextpad=1.0, borderpad=0.4,
                     labelspacing=0.5, scatteryoffsets=[0.5])
    leg.get_frame().set_linewidth(0.9)
    fx_lab_x, fx_lab_y = fz_pos[g]
    ax1.text(fx_lab_x, fx_lab_y, fz_labels[g], fontsize=FS, va="center", ha="left", color="black")

    # Fy vs slip
    ax2 = make_ax(x0, t0 + pan_off[1])
    draw(ax2, np.concatenate([slip, slip]), np.concatenate([fytp, fytn]),
         np.concatenate([slip, slip]), np.concatenate([fymp, fymn]))
    style_ax(ax2, slip_ticks, slip_tick_labels, (-0.5, 0.5), "Slip Ratio", "Fy (lbs)")

    # Fy vs Fx
    ax3 = make_ax(x0, t0 + pan_off[2])
    draw(ax3, np.concatenate([fxt, fxt]), np.concatenate([fytp, fytn]),
         np.concatenate([fxm, fxm]), np.concatenate([fymp, fymn]))
    style_ax(ax3, fx_ticks, fx_tick_labels, (-1400, 1400), "Fx (lbs)", "Fy (lbs)")

fig.savefig("out.png", dpi=100)
